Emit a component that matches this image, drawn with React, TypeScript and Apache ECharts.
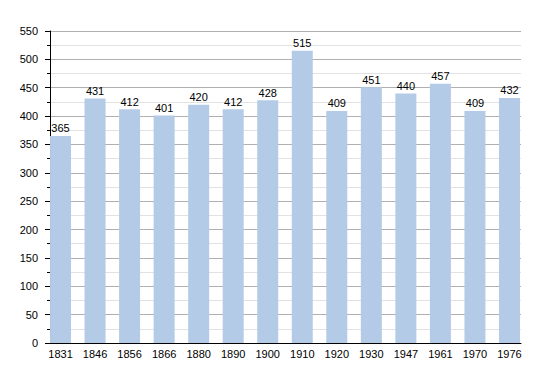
import React, { useEffect, useRef } from "react";
import * as echarts from "echarts";

const categories = ["1831", "1846", "1856", "1866", "1880", "1890", "1900", "1910", "1920", "1930", "1947", "1961", "1970", "1976"];
const population = [365, 431, 412, 401, 420, 412, 428, 515, 409, 451, 440, 457, 409, 432];
const yMin = 0;
const yMax = 550;
const yStep = 50;

export default function App() {
  const ref = useRef<HTMLDivElement>(null);
  useEffect(() => {
    if (!ref.current) return;
    const chart = echarts.init(ref.current, undefined, { renderer: "svg" });
    const font = "Liberation Sans, Arial, sans-serif";
    chart.setOption({
      animation: false,
      backgroundColor: "#ffffff",
      grid: [
        { left: 50, right: 29, top: 31, bottom: 30 },
        { left: 43.25, right: 550 - 526.75, top: 31, bottom: 30 },
      ],
      xAxis: [
        {
          type: "category",
          gridIndex: 0,
          data: categories,
          axisLine: { show: true, lineStyle: { color: "#000", width: 1 } },
          axisTick: { show: false },
          axisLabel: { show: false },
          splitLine: { show: false },
        },
        {
          type: "category",
          gridIndex: 1,
          data: categories,
          axisLine: { show: false },
          axisTick: { show: false },
          axisLabel: { color: "#000", fontSize: 11, fontFamily: font, margin: 5 },
        },
      ],
      yAxis: [
        {
          type: "value",
          gridIndex: 0,
          min: yMin,
          max: yMax,
          interval: yStep,
          axisLine: { show: true, lineStyle: { color: "#000", width: 1 } },
          axisTick: { show: true, length: 5, lineStyle: { color: "#000" } },
          minorTick: { show: true, splitNumber: 2, length: 3, lineStyle: { color: "#000" } },
          axisLabel: { color: "#000", fontSize: 11, fontFamily: font, margin: 12 },
          splitLine: { show: true, lineStyle: { color: "#b0b0b0", width: 1 } },
          minorSplitLine: { show: true, lineStyle: { color: "#e2e2e2", width: 1 } },
        },
        {
          type: "value",
          gridIndex: 1,
          min: yMin,
          max: yMax,
          interval: yStep,
          show: false,
          splitLine: { show: false },
        },
      ],
      series: [
        {
          type: "bar",
          xAxisIndex: 1,
          yAxisIndex: 1,
          data: population,
          barWidth: 21,
          itemStyle: { color: "#b3cbe6" },
          label: {
            show: true,
            position: "top",
            distance: 2,
            color: "#000",
            fontSize: 11,
            fontFamily: font,
          },
        },
      ],
    });
    return () => chart.dispose();
  }, []);
  return <div ref={ref} style={{ width: 550, height: 373, position: "absolute", left: 0, top: 0 }} />;
}
